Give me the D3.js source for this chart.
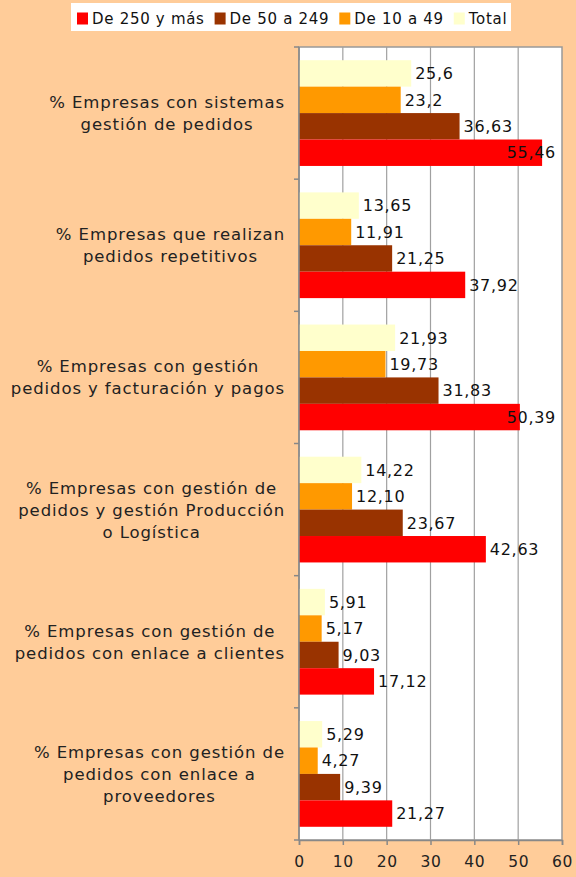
<!DOCTYPE html>
<html>
<head>
<meta charset="utf-8">
<script src="https://cdn.jsdelivr.net/npm/d3@7"></script>
<style>
  body { margin: 0; background: #FFCC99; }
  svg { display: block; font-family: "DejaVu Sans", Verdana, sans-serif; }
</style>
</head>
<body>
<svg id="chart" width="576" height="877"></svg>
<script>
// categories (top to bottom), each one split in lines
var categories = [
  ["% Empresas con sistemas", "gestión de pedidos"],
  ["% Empresas que realizan", "pedidos repetitivos"],
  ["% Empresas con gestión", "pedidos y facturación y pagos"],
  ["% Empresas con gestión de", "pedidos y gestión Producción", "o Logística"],
  ["% Empresas con gestión de", "pedidos con enlace a clientes"],
  ["% Empresas con gestión de", "pedidos con enlace a", "proveedores"]
];

var seriesNames = ["Total", "De 10 a 49", "De 50 a 249", "De 250 y más"];
var seriesColors = ["#FFFFCC", "#FF9900", "#993300", "#FF0000"];

var total     = [25.6, 13.65, 21.93, 14.22, 5.91, 5.29];
var de10a49   = [23.2, 11.91, 19.73, 12.10, 5.17, 4.27];
var de50a249  = [36.63, 21.25, 31.83, 23.67, 9.03, 9.39];
var de250     = [55.46, 37.92, 50.39, 42.63, 17.12, 21.27];

var totalLabels   = ["25,6", "13,65", "21,93", "14,22", "5,91", "5,29"];
var de10a49Labels = ["23,2", "11,91", "19,73", "12,10", "5,17", "4,27"];
var de50Labels    = ["36,63", "21,25", "31,83", "23,67", "9,03", "9,39"];
var de250Labels   = ["55,46", "37,92", "50,39", "42,63", "17,12", "21,27"];

var xTicks = [0, 10, 20, 30, 40, 50, 60];

// legend order as shown
var legendOrder = [3, 2, 1, 0];

var series = [total, de10a49, de50a249, de250];
var seriesLabels = [totalLabels, de10a49Labels, de50Labels, de250Labels];

var svg = d3.select("#chart");
var margin = {left: 299, right: 14, top: 47, bottom: 37};
var width = 576, height = 877;

var x = d3.scaleLinear().domain([0, 60]).range([margin.left, width - margin.right]);
var y = d3.scaleBand().domain(d3.range(categories.length))
  .range([margin.top, height - margin.bottom]).paddingInner(0).paddingOuter(0);
var y1 = d3.scaleBand().domain(d3.range(series.length))
  .range([0, y.bandwidth()]).paddingOuter(0.5).paddingInner(0);

// plot area
svg.append("rect")
  .attr("x", x(0)).attr("y", margin.top)
  .attr("width", x(60) - x(0)).attr("height", height - margin.bottom - margin.top)
  .attr("fill", "#fff").attr("stroke", "#999").attr("stroke-width", 1.5);

// gridlines
svg.append("g").selectAll("line")
  .data(xTicks.slice(1, -1)).enter().append("line")
  .attr("x1", d => x(d)).attr("x2", d => x(d))
  .attr("y1", margin.top).attr("y2", height - margin.bottom)
  .attr("stroke", "#a0a0a0").attr("stroke-width", 1.2);

// bars
var groups = svg.append("g").selectAll("g")
  .data(categories).enter().append("g")
  .attr("transform", (d, i) => "translate(0," + y(i) + ")");

series.forEach(function (vals, s) {
  groups.append("rect")
    .attr("x", x(0))
    .attr("y", y1(s))
    .attr("width", (d, i) => x(vals[i]) - x(0))
    .attr("height", y1.bandwidth())
    .attr("fill", seriesColors[s]);
});

// value labels
series.forEach(function (vals, s) {
  groups.append("text")
    .attr("y", y1(s) + y1.bandwidth() / 2)
    .attr("dy", "0.36em")
    .attr("font-size", 16)
    .attr("letter-spacing", 0.7)
    .attr("fill", "#111")
    .text((d, i) => seriesLabels[s][i])
    .attr("x", function (d, i) {
      var w = this.getComputedTextLength();
      return Math.min(x(vals[i]) + 4, x(60) - w - 6);
    });
});

// y axis with ticks at category boundaries
var yAxis = svg.append("g");
yAxis.append("line")
  .attr("x1", x(0)).attr("x2", x(0))
  .attr("y1", margin.top).attr("y2", height - margin.bottom)
  .attr("stroke", "#888").attr("stroke-width", 1.5);
yAxis.selectAll(".tk").data(d3.range(categories.length + 1)).enter().append("line")
  .attr("x1", x(0) - 5).attr("x2", x(0))
  .attr("y1", i => margin.top + i * y.bandwidth())
  .attr("y2", i => margin.top + i * y.bandwidth())
  .attr("stroke", "#888").attr("stroke-width", 1.5);

// category labels: block right-aligned to 285, lines centred inside the block
var lineH = 22, labelRight = 285;
groups.append("text")
  .attr("text-anchor", "middle")
  .attr("font-size", 16.5)
  .attr("letter-spacing", 0.9)
  .attr("fill", "#222")
  .each(function (lines) {
    var t = d3.select(this);
    var y0 = y.bandwidth() / 2 - (lines.length - 1) * lineH / 2;
    var spans = lines.map(function (ln, k) {
      return t.append("tspan").attr("y", y0 + k * lineH).attr("dy", "0.36em").text(ln);
    });
    var maxW = d3.max(spans, sp => sp.node().getComputedTextLength());
    spans.forEach(sp => sp.attr("x", labelRight - maxW / 2));
  });

// x axis
var xAxis = svg.append("g")
  .attr("transform", "translate(0," + (height - margin.bottom) + ")")
  .call(d3.axisBottom(x).tickValues(xTicks).tickSize(5).tickPadding(11).tickFormat(d3.format("d")));
xAxis.select(".domain").attr("stroke", "#888").attr("stroke-width", 1.5);
xAxis.selectAll(".tick line").attr("stroke", "#888").attr("stroke-width", 1.5);
xAxis.selectAll("text").attr("font-size", 15.5).attr("letter-spacing", 0.6)
  .attr("fill", "#222").attr("font-family", "DejaVu Sans, Verdana, sans-serif");

// legend
var legend = svg.append("g");
legend.append("rect")
  .attr("x", 71).attr("y", 3).attr("width", 440).attr("height", 28).attr("fill", "#fff");
var lx = 77;
legendOrder.forEach(function (s) {
  legend.append("rect")
    .attr("x", lx).attr("y", 12.5).attr("width", 11).attr("height", 12)
    .attr("fill", seriesColors[s]);
  var t = legend.append("text")
    .attr("x", lx + 15).attr("y", 18.5).attr("dy", "0.36em")
    .attr("font-size", 15).attr("letter-spacing", 0.7).attr("fill", "#111")
    .text(seriesNames[s]);
  lx += 15 + t.node().getComputedTextLength() + 10;
});
</script>
</body>
</html>
